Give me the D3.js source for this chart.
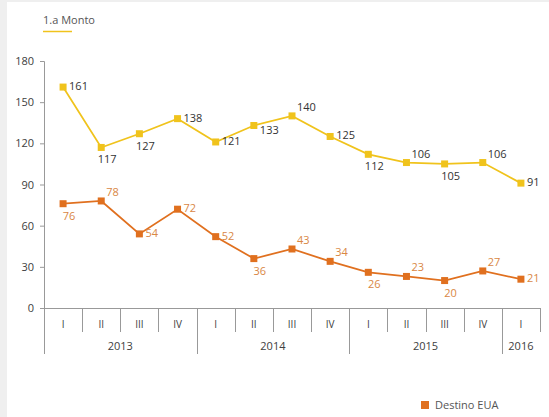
<!DOCTYPE html>
<html>
<head>
<meta charset="utf-8">
<script src="https://cdn.jsdelivr.net/npm/d3@7"></script>
<style>
  body { margin: 0; background: #fff; }
  text { font-family: "Open Sans", "Noto Sans", sans-serif; }
</style>
</head>
<body>
<div id="chart"></div>
<script>
// Data
var quarters = ["I", "II", "III", "IV", "I", "II", "III", "IV", "I", "II", "III", "IV", "I"];
var years = ["2013", "2014", "2015", "2016"];
var yearSpan = [4, 4, 4, 1];
var monto = [161, 117, 127, 138, 121, 133, 140, 125, 112, 106, 105, 106, 91];
var destinoEUA = [76, 78, 54, 72, 52, 36, 43, 34, 26, 23, 20, 27, 21];
var yTicks = [0, 30, 60, 90, 120, 150, 180];
// label placement: r = right, b = below, a = above-right, d = below-right
var montoPlace = ["r", "b", "b", "r", "r", "d", "a", "r", "b", "a", "b", "a", "r"];
var euaPlace = ["b", "a", "r", "r", "r", "b", "a", "a", "b", "a", "b", "a", "r"];

var svgWidth = 549;
var svgHeight = 417;
var margin = { top: 61, left: 44 };
var width = 496;
var height = 247;

var yellow = "#F0C31C";
var orange = "#E0701F";

var svg = d3.select("#chart")
  .append("svg")
  .attr("width", svgWidth)
  .attr("height", svgHeight);

// grey frame strip
svg.append("rect").attr("x", 0).attr("y", 0).attr("width", 7).attr("height", svgHeight).attr("fill", "#EFEFEF");
svg.append("rect").attr("x", 0).attr("y", 0).attr("width", svgWidth).attr("height", 2).attr("fill", "#EFEFEF");

var chartGroup = svg.append("g")
  .attr("transform", `translate(${margin.left}, ${margin.top})`);

// Scales
var xScale = d3.scaleBand()
  .domain(d3.range(quarters.length))
  .range([0, width]);

var yScale = d3.scaleLinear()
  .domain([0, 180])
  .range([height, 0]);

// Y axis
var leftAxis = d3.axisLeft(yScale).tickValues(yTicks).tickSize(4).tickPadding(6);
var yAxisG = chartGroup.append("g").call(leftAxis);
yAxisG.select(".domain").attr("stroke", "#999").attr("d", `M-4,0.5H0.5V${height}`);
yAxisG.selectAll(".tick line").attr("stroke", "#999");
yAxisG.selectAll(".tick text").attr("fill", "#404040").style("font-size", "11px");

// X axis line
chartGroup.append("line")
  .attr("x1", 0).attr("x2", width)
  .attr("y1", height + 0.5).attr("y2", height + 0.5)
  .attr("stroke", "#999");

// left axis extension down through both rows
chartGroup.append("line")
  .attr("x1", 0.5).attr("x2", 0.5)
  .attr("y1", height).attr("y2", height + 46)
  .attr("stroke", "#999");

// quarter separators
var yearStart = [];
var acc = 0;
yearSpan.forEach(function (s) { yearStart.push(acc); acc += s; });

chartGroup.selectAll(".qsep")
  .data(d3.range(1, quarters.length + 1))
  .enter()
  .append("line")
  .attr("x1", d => Math.round(xScale.step() * d) + 0.5)
  .attr("x2", d => Math.round(xScale.step() * d) + 0.5)
  .attr("y1", height)
  .attr("y2", d => (yearStart.indexOf(d) > 0) ? height + 46 : height + 24)
  .attr("stroke", "#999");

// quarter labels
chartGroup.selectAll(".qlab")
  .data(quarters)
  .enter()
  .append("text")
  .attr("x", (d, i) => xScale(i) + xScale.bandwidth() / 2)
  .attr("y", height + 20)
  .attr("text-anchor", "middle")
  .style("font-size", "10px")
  .attr("fill", "#404040")
  .text(d => d);

// year labels
chartGroup.selectAll(".ylab")
  .data(years)
  .enter()
  .append("text")
  .attr("x", (d, i) => xScale(yearStart[i]) + xScale.step() * yearSpan[i] / 2)
  .attr("y", height + 42)
  .attr("text-anchor", "middle")
  .style("font-size", "11px")
  .attr("fill", "#404040")
  .text(d => d);

function drawSeries(values, places, color, labelColor) {
  var line = d3.line()
    .x((d, i) => xScale(i) + xScale.bandwidth() / 2)
    .y(d => yScale(d));

  chartGroup.append("path")
    .datum(values)
    .attr("d", line)
    .attr("fill", "none")
    .attr("stroke", color)
    .attr("stroke-width", 1.75);

  chartGroup.selectAll(null)
    .data(values)
    .enter()
    .append("rect")
    .attr("x", (d, i) => xScale(i) + xScale.bandwidth() / 2 - 3.5)
    .attr("y", d => yScale(d) - 3.5)
    .attr("width", 7)
    .attr("height", 7)
    .attr("fill", color);

  chartGroup.selectAll(null)
    .data(values)
    .enter()
    .append("text")
    .attr("x", function (d, i) {
      var cx = xScale(i) + xScale.bandwidth() / 2;
      if (places[i] === "b") return cx + 6;
      if (places[i] === "a") return cx + 5;
      return cx + 6;
    })
    .attr("y", function (d, i) {
      var cy = yScale(d);
      if (places[i] === "b") return cy + 16;
      if (places[i] === "a") return cy - 5;
      if (places[i] === "d") return cy + 9;
      return cy + 3;
    })
    .attr("text-anchor", (d, i) => places[i] === "b" ? "middle" : "start")
    .style("font-size", "11px")
    .attr("fill", labelColor)
    .text(d => d);
}

drawSeries(monto, montoPlace, yellow, "#333333");
drawSeries(destinoEUA, euaPlace, orange, "#D98744");

// legends
svg.append("text")
  .attr("x", 43)
  .attr("y", 24)
  .style("font-size", "11px")
  .attr("fill", "#555")
  .text("1.a  Monto");

svg.append("line")
  .attr("x1", 43).attr("x2", 72)
  .attr("y1", 31.5).attr("y2", 31.5)
  .attr("stroke", yellow)
  .attr("stroke-width", 1.5);

svg.append("rect")
  .attr("x", 421).attr("y", 401)
  .attr("width", 8).attr("height", 8)
  .attr("fill", orange);

svg.append("text")
  .attr("x", 435)
  .attr("y", 409)
  .style("font-size", "11px")
  .attr("fill", "#555")
  .text("Destino EUA");
</script>
</body>
</html>
